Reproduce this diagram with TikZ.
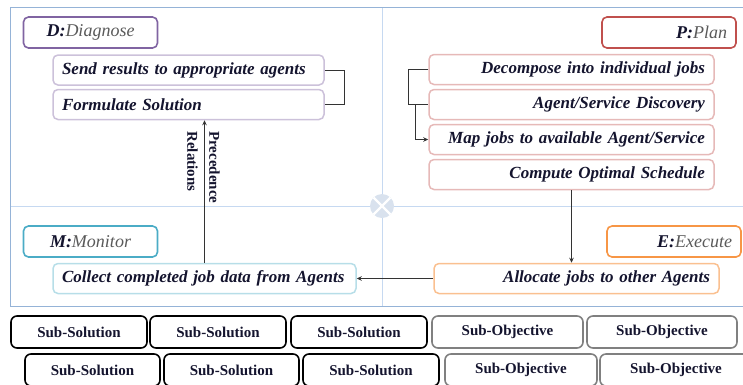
\documentclass[tikz,border=0pt]{standalone}
\usepackage{fontspec}
\setmainfont{Liberation Serif}
\usetikzlibrary{arrows.meta}
\definecolor{dmain}{HTML}{8064A2}
\definecolor{dsub}{HTML}{CCC1DA}
\definecolor{pmain}{HTML}{C0504D}
\definecolor{psub}{HTML}{E6B9B8}
\definecolor{emain}{HTML}{F79646}
\definecolor{esub}{HTML}{FAC090}
\definecolor{mmain}{HTML}{4BACC6}
\definecolor{msub}{HTML}{B7DEE8}
\definecolor{lblgray}{HTML}{5A5A5A}
\definecolor{txt}{HTML}{14142E}
\definecolor{framec}{HTML}{95B3D7}
\definecolor{crossc}{HTML}{C6D9F1}
\definecolor{circc}{HTML}{D9E2EE}
\definecolor{objc}{HTML}{808080}
\tikzset{
  lblbox/.style={rounded corners=5pt, line width=1.6pt, fill=white, minimum height=31pt,
    text width=116pt, inner xsep=9pt, inner ysep=0pt, text=txt,
    font=\itshape\fontsize{18}{20}\selectfont},
  taskbox/.style={rounded corners=5pt, line width=1.5pt, fill=white, minimum height=30pt,
    inner xsep=9pt, inner ysep=0pt, text=txt,
    font=\bfseries\itshape\fontsize{17}{20}\selectfont},
  solbox/.style={rounded corners=6pt, line width=1.6pt, draw=black, fill=white,
    minimum height=32pt, inner sep=0pt, text=txt,
    font=\bfseries\fontsize{15}{18}\selectfont},
  objbox/.style={solbox, draw=objc},
  conn/.style={line width=0.9pt, draw=black!80},
  arr/.style={conn, -{Stealth[length=5pt,width=4.5pt]}},
}
\begin{document}
\begin{tikzpicture}[x=1pt,y=-1pt]
\useasboundingbox (0,0) rectangle (743,384);
% frame and crosshair
\draw[crossc, line width=1pt] (382,7) -- (382,307);
\draw[crossc, line width=1pt] (10.5,206) -- (745,206);
\draw[framec, line width=1pt] (745,7) -- (10.5,7) -- (10.5,306.5) -- (745,306.5);
\draw[framec, line width=1.8pt] (10.5,306.5) -- (745,306.5);
\fill[circc] (382,206) circle (12);
\draw[white, line width=2.2pt] (382,206) ++(-8.5,-8.5) -- ++(17,17);
\draw[white, line width=2.2pt] (382,206) ++(8.5,-8.5) -- ++(-17,17);

% Diagnose
\node[lblbox, draw=dmain, align=center] (dlab) at (90.5,32.5) {\textbf{D:}\textcolor{lblgray}{Diagnose}};
\node[taskbox, draw=dsub, text width=253pt, align=left] (send) at (188.5,70) {Send results to appropriate agents};
\node[taskbox, draw=dsub, text width=253pt, align=left] (form) at (188.5,104.5) {Formulate Solution};

% Plan
\node[lblbox, draw=pmain, align=right] (plab) at (669,32.5) {\textbf{P:}\textcolor{lblgray}{Plan}};
\node[taskbox, draw=psub, text width=267pt, align=right] (dec) at (571.5,69.5) {Decompose into individual jobs};
\node[taskbox, draw=psub, text width=267pt, align=right] (agent) at (571.5,104.5) {Agent/Service Discovery};
\node[taskbox, draw=psub, text width=267pt, align=right] (map) at (571.5,139.5) {Map jobs to available Agent/Service};
\node[taskbox, draw=psub, text width=267pt, align=right] (comp) at (571.5,174.5) {Compute Optimal Schedule};

% Execute
\node[lblbox, draw=emain, align=right] (elab) at (674,241.5) {\textbf{E:}\textcolor{lblgray}{Execute}};
\node[taskbox, draw=esub, text width=267pt, align=right] (alloc) at (576.5,278.5) {Allocate jobs to other Agents};

% Monitor
\node[lblbox, draw=mmain, align=center] (mlab) at (90.5,241.5) {\textbf{M:}\textcolor{lblgray}{Monitor}};
\node[taskbox, draw=msub, text width=289pt, inner xsep=7pt, align=left] (coll) at (204.5,278.5) {\hspace*{2pt}Collect completed job data from Agents};

% connectors
\draw[conn] (send.east) -- ++(20,0) |- (form.east);
\draw[conn] (dec.west) -- ++(-20,0) |- (agent.west);
\draw[arr] ([xshift=-13pt]agent.west) |- (map.west);
\draw[arr] (comp.south) -- (comp.south |- alloc.north);
\draw[arr] (alloc.west) -- (coll.east);
\draw[arr] (coll.north) -- (coll.north |- form.south);
\node[rotate=-90, align=left, text=txt, inner sep=0pt,
  font=\bfseries\fontsize{15}{22}\selectfont] (prec) at (203.5,167.5) {Precedence\\Relations};

% bottom rows
\node[solbox, minimum width=136pt] (s1) at (79,332) {Sub-Solution};
\node[solbox, minimum width=136pt] (s2) at (218,332) {Sub-Solution};
\node[solbox, minimum width=136pt] (s3) at (359,332) {Sub-Solution};
\node[objbox, minimum width=151pt] (o1) at (507.5,332) {Sub-Objective};
\node[objbox, minimum width=150pt] (o2) at (662,332) {Sub-Objective};
\node[solbox, minimum width=135pt] (s4) at (92.5,370) {Sub-Solution};
\node[solbox, minimum width=135pt] (s5) at (231.5,370) {Sub-Solution};
\node[solbox, minimum width=136pt] (s6) at (371,370) {Sub-Solution};
\node[objbox, minimum width=152pt] (o3) at (521,370) {Sub-Objective};
\node[objbox, minimum width=152pt] (o4) at (676,370) {Sub-Objective};
\end{tikzpicture}
\end{document}
